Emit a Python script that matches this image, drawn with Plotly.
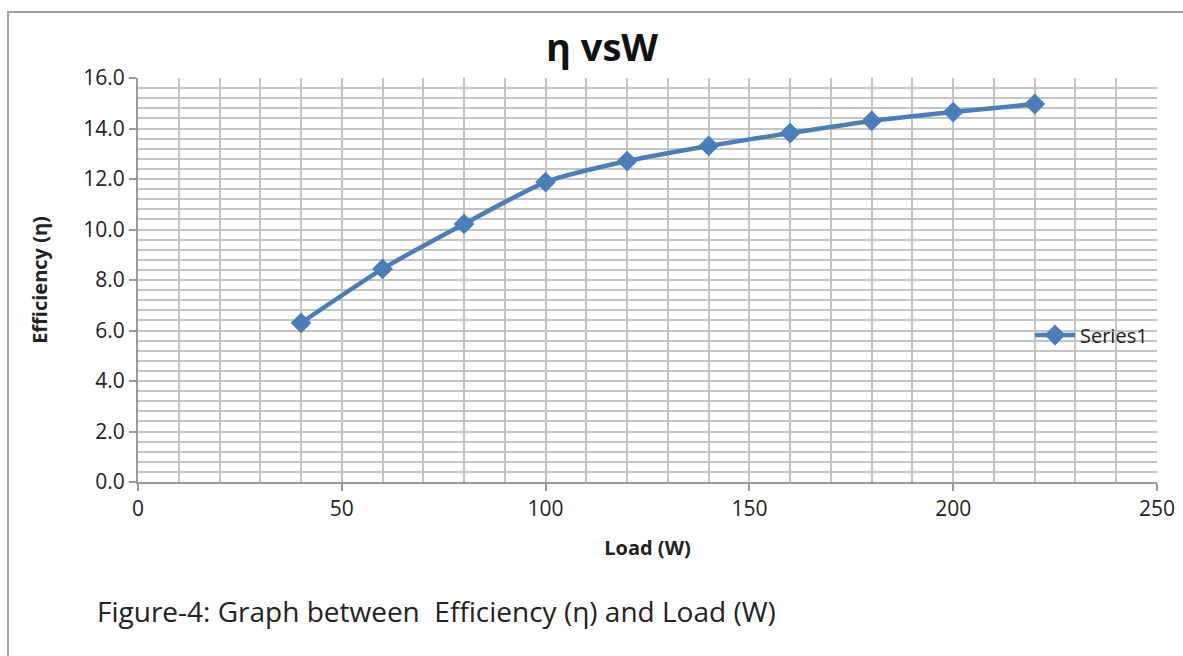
import plotly.graph_objects as go

load_w = [40, 60, 80, 100, 120, 140, 160, 180, 200, 220]
efficiency = [6.30, 8.44, 10.22, 11.88, 12.71, 13.31, 13.82, 14.30, 14.65, 14.97]
series_name = "Series1"
title_text = "η vsW"
x_title = "Load (W)"
y_title = "Efficiency (η)"
caption = "Figure-4: Graph between  Efficiency (η) and Load (W)"

L, R, T, B = 138, 1157, 78, 482
W, H = 1183, 656
pw, ph = R - L, B - T

def px(x):
    return (x - L) / pw

def py(y):
    return (B - y) / ph

fig = go.Figure()
fig.add_trace(go.Scatter(
    x=load_w, y=efficiency, name=series_name, mode="lines+markers",
    line=dict(color="#4a7ebb", width=4.5, shape="spline", smoothing=0.6),
    marker=dict(symbol="diamond", size=16, color="#4a7ebb"),
))

grid_col = "#c4c4c4"
axis_col = "#9a9a9a"
fig.update_layout(
    width=W, height=H,
    margin=dict(l=L, r=W - R, t=T, b=H - B, autoexpand=False),
    paper_bgcolor="white", plot_bgcolor="white",
    font=dict(family="Open Sans", color="#222222"),
    title=dict(text="<b>" + title_text + "</b>", xref="container", x=602 / W,
               xanchor="center", y=1 - 48 / H, yanchor="middle",
               font=dict(size=38, color="#111111")),
    showlegend=True,
    legend=dict(x=px(1030), y=py(335), xanchor="left", yanchor="middle",
                bgcolor="rgba(0,0,0,0)", font=dict(size=20, color="#222222"),
                itemwidth=40),
    xaxis=dict(range=[0, 250], dtick=50, tick0=0, showgrid=True, gridcolor=grid_col,
               gridwidth=1.5, minor=dict(dtick=10, showgrid=True, gridcolor=grid_col,
                                         gridwidth=1.5),
               showline=True, linecolor=axis_col, linewidth=2, ticks="outside",
               ticklen=7, tickcolor=axis_col, tickwidth=2, automargin=False,
               tickfont=dict(size=21, color="#222222"), zeroline=False,
               title=dict(text="<b>" + x_title + "</b>", font=dict(size=20), standoff=20)),
    yaxis=dict(range=[0, 16], dtick=2, tick0=0, tickformat=".1f", showgrid=True,
               gridcolor=grid_col, gridwidth=1.5,
               minor=dict(dtick=0.4, showgrid=True, gridcolor=grid_col, gridwidth=1.5),
               showline=True, linecolor=axis_col, linewidth=2, ticks="outside",
               ticklen=7, tickcolor=axis_col, tickwidth=2, automargin=False,
               tickfont=dict(size=21, color="#222222"), zeroline=False,
               title=dict(text="<b>" + y_title + "</b>", font=dict(size=20), standoff=30)),
    shapes=[dict(type="rect", xref="paper", yref="paper",
                 x0=px(8), x1=px(1195), y0=py(670), y1=py(12),
                 line=dict(color="#a0a0a0", width=2), layer="below")],
    annotations=[dict(text=caption, xref="paper", yref="paper", x=px(95), y=py(611),
                      xanchor="left", yanchor="middle", showarrow=False,
                      font=dict(size=28, color="#222222"))],
)

fig.write_html("out.html")
